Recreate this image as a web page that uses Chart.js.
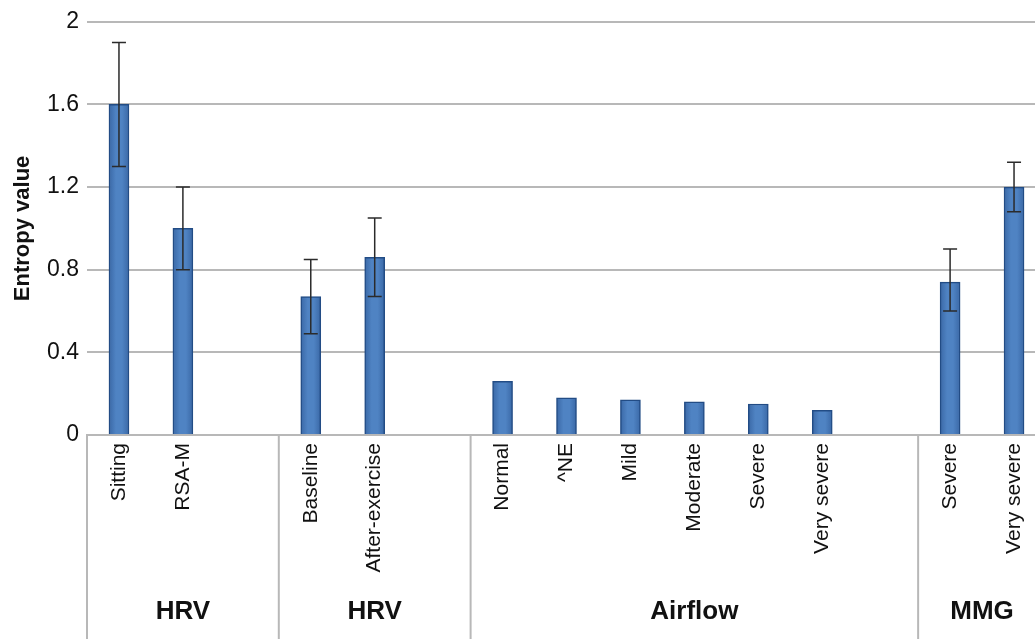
<!DOCTYPE html>
<html>
<head>
<meta charset="utf-8">
<script src="https://cdn.jsdelivr.net/npm/chart.js@4.4.1/dist/chart.umd.min.js"></script>
<style>
  html, body { margin: 0; padding: 0; background: #fff; overflow: hidden; }
  #wrap { width: 1050px; height: 639px; }
</style>
</head>
<body>
<div id="wrap"><canvas id="chart" width="1050" height="639"></canvas></div>
<script>
// categories (empty strings are the gaps between groups)
const categories = ['Sitting', 'RSA-M', '', 'Baseline', 'After-exercise', '',
  'Normal', '^NE', 'Mild', 'Moderate', 'Severe', 'Very severe', '', 'Severe', 'Very severe'];
const entropy = [1.6, 1.0, null, 0.67, 0.86, null, 0.26, 0.18, 0.17, 0.16, 0.15, 0.12, null, 0.74, 1.2];
const errLow  = [1.3, 0.8, null, 0.49, 0.67, null, null, null, null, null, null, null, null, 0.6, 1.08];
const errHigh = [1.9, 1.2, null, 0.85, 1.05, null, null, null, null, null, null, null, null, 0.9, 1.32];

// groups under the category labels
const groupNames = ['HRV', 'HRV', 'Airflow', 'MMG'];
const groupFirst = [0, 3, 6, 13];
const groupLast  = [2, 5, 12, 14];

const yTicks = [0, 0.4, 0.8, 1.2, 1.6, 2];

const FONT = "'Liberation Sans', Arial, sans-serif";
const GRID = '#b8b8b8';

// bar fill: horizontal gradient, darker at the edges
function barFill(ctx) {
  const chart = ctx.chart;
  if (!chart.chartArea || !chart.scales.x) return '#4a7dbc';
  const x = chart.scales.x.getPixelForValue(ctx.dataIndex);
  const g = chart.ctx.createLinearGradient(x - 10, 0, x + 10, 0);
  g.addColorStop(0, '#3a68a6');
  g.addColorStop(0.35, '#4f83c3');
  g.addColorStop(0.65, '#4f83c3');
  g.addColorStop(1, '#3a68a6');
  return g;
}

// error bars
const errorBars = {
  id: 'errorBars',
  afterDatasetsDraw(chart) {
    const { ctx, scales: { x, y } } = chart;
    ctx.save();
    ctx.strokeStyle = '#2b2b2b';
    ctx.lineWidth = 1.5;
    errLow.forEach((lo, i) => {
      const hi = errHigh[i];
      if (lo == null || hi == null) return;
      const px = x.getPixelForValue(i);
      const yl = y.getPixelForValue(lo);
      const yh = y.getPixelForValue(hi);
      ctx.beginPath();
      ctx.moveTo(px, yl); ctx.lineTo(px, yh);
      ctx.moveTo(px - 7, yl); ctx.lineTo(px + 7, yl);
      ctx.moveTo(px - 7, yh); ctx.lineTo(px + 7, yh);
      ctx.stroke();
    });
    ctx.restore();
  }
};

// group separators and group names below the axis
const groupAxis = {
  id: 'groupAxis',
  afterDraw(chart) {
    const { ctx, chartArea, scales: { x } } = chart;
    const step = x.getPixelForValue(1) - x.getPixelForValue(0);
    const bottom = chart.height;
    ctx.save();
    ctx.strokeStyle = GRID;
    ctx.lineWidth = 2;
    groupFirst.forEach((f, gi) => {
      const left = x.getPixelForValue(f) - step / 2;
      const right = x.getPixelForValue(groupLast[gi]) + step / 2;
      ctx.beginPath();
      ctx.moveTo(left, chartArea.bottom);
      ctx.lineTo(left, bottom);
      ctx.stroke();
      ctx.fillStyle = '#111';
      ctx.font = 'bold 26px ' + FONT;
      ctx.textAlign = 'center';
      ctx.textBaseline = 'middle';
      ctx.fillText(groupNames[gi], (left + right) / 2, 612);
    });
    ctx.restore();
  }
};

new Chart(document.getElementById('chart'), {
  type: 'bar',
  data: {
    labels: categories,
    datasets: [{
      data: entropy,
      backgroundColor: barFill,
      borderColor: '#224c85',
      borderWidth: 1.5,
      barThickness: 20
    }]
  },
  options: {
    responsive: false,
    animation: false,
    layout: { padding: { top: 20, right: 4, left: 0, bottom: 0 } },
    plugins: {
      legend: { display: false },
      tooltip: { enabled: false }
    },
    scales: {
      x: {
        grid: { display: false, drawTicks: false },
        border: { display: true, color: GRID, width: 2 },
        ticks: {
          color: '#111',
          font: { family: FONT, size: 21 },
          minRotation: 90,
          maxRotation: 90,
          autoSkip: false,
          padding: 8
        },
        afterFit: s => { s.height = 204; }
      },
      y: {
        min: 0,
        max: 2,
        afterBuildTicks: s => { s.ticks = yTicks.map(v => ({ value: v })); },
        grid: { color: GRID, lineWidth: 2, drawTicks: false },
        border: { display: false },
        ticks: {
          color: '#111',
          font: { family: FONT, size: 23 },
          padding: 8,
          callback: v => String(v)
        },
        title: {
          display: true,
          text: 'Entropy value',
          color: '#111',
          font: { family: FONT, size: 22, weight: 'bold' },
          padding: { top: 10, bottom: 0 }
        },
        afterFit: s => { s.width = 87; }
      }
    }
  },
  plugins: [errorBars, groupAxis]
});
</script>
</body>
</html>
